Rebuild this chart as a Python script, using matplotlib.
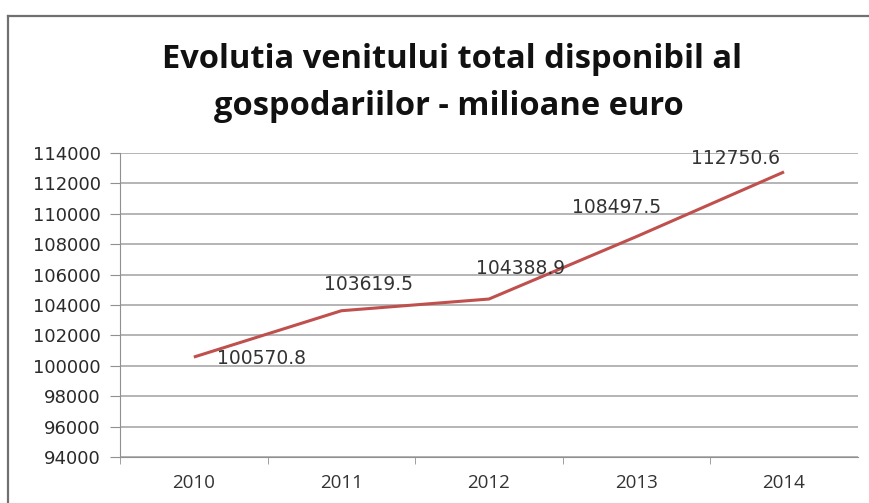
import matplotlib.pyplot as plt
from matplotlib.lines import Line2D

# venitul total disponibil al gospodariilor, milioane euro
ani = ['2010', '2011', '2012', '2013', '2014']
venit = [100570.8, 103619.5, 104388.9, 108497.5, 112750.6]
y_ticks = list(range(94000, 114001, 2000))

# pozitia etichetelor fata de punct (puncte tipografice)
label_offsets = [(49, -1), (19.5, 19), (23, 22), (-14, 21), (-35, 10)]

fig = plt.figure(figsize=[8.7, 5.03], dpi=100)
ax = fig.add_axes([0.138, 0.0915, 0.848, 0.6045])

x = list(range(len(ani)))
ax.plot(x, venit, color='#c0504d', linewidth=2.2, solid_capstyle='butt', zorder=3)

for xi, v, off in zip(x, venit, label_offsets):
    ax.annotate(f'{v:.1f}', (xi, v), xytext=off, textcoords='offset points',
                ha='center', va='center', fontsize=13.5, color='#333333',
                family='DejaVu Sans', zorder=4)

ax.set_xlim(-0.5, len(ani) - 0.5)
ax.set_ylim(94000, 114000)
ax.set_yticks(y_ticks)
ax.set_yticklabels([str(t) for t in y_ticks], family='DejaVu Sans', fontsize=13, color='#2a2a2a')
ax.set_xticks(x)
ax.set_xticklabels(ani, family='Open Sans', fontsize=13.5, color='#333333')
ax.set_xticks([i - 0.5 for i in x], minor=True)

ax.grid(axis='y', color='#a0a0a0', linewidth=1.1)
ax.tick_params(axis='y', length=7, color='#909090', pad=7)
ax.tick_params(axis='x', which='major', length=0, pad=12)
ax.tick_params(axis='x', which='minor', length=5, color='#909090')
for side in ['top', 'right']:
    ax.spines[side].set_visible(False)
ax.spines['left'].set_color('#909090')
ax.spines['bottom'].set_color('#909090')

# titlul pe doua randuri
fig.text(0.519, 1 - 68 / 503, 'Evolutia venitului total disponibil al',
         ha='center', va='baseline', fontsize=23.5, fontweight='bold',
         family='Open Sans', color='#111111')
fig.text(0.516, 1 - 115 / 503, 'gospodariilor - milioane euro',
         ha='center', va='baseline', fontsize=23.5, fontweight='bold',
         family='Open Sans', color='#111111')

# chenarul graficului
fig.add_artist(Line2D([0.009, 0.009], [0.0, 0.968], color='#707070', linewidth=1.6))
fig.add_artist(Line2D([0.009, 1.0], [0.968, 0.968], color='#707070', linewidth=1.6))

fig.savefig('out.png', dpi=100)
